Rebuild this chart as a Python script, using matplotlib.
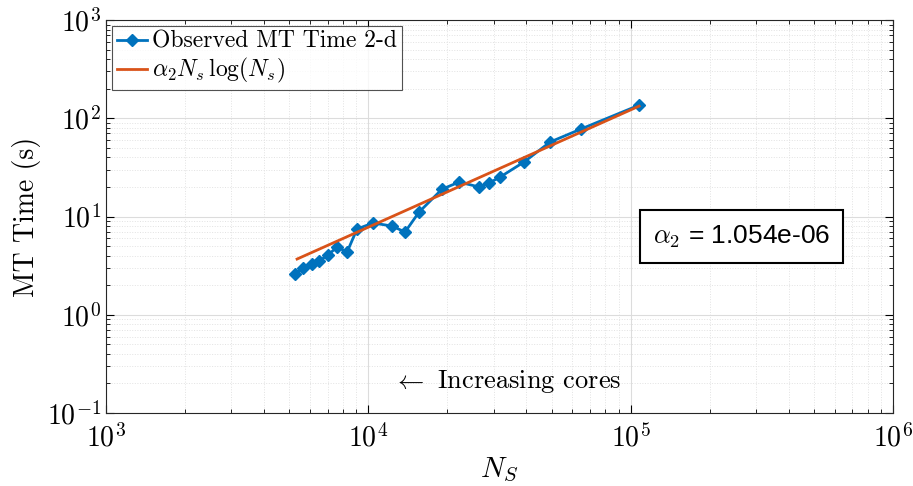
import numpy as np
import matplotlib
matplotlib.use("Agg")
import matplotlib.pyplot as plt

plt.rcParams['font.family'] = 'serif'
plt.rcParams['font.serif'] = ['cmr10']
plt.rcParams['mathtext.fontset'] = 'cm'
plt.rcParams['axes.formatter.use_mathtext'] = True

# observed MT time (2-d) vs number of sources
ns = [5254, 5637, 6100, 6490, 7020, 7600, 8300, 9056, 10420, 12310, 13800,
      15610, 19100, 22180, 26420, 28840, 31770, 39230, 49300, 64710, 107700]
mt_time = [2.60, 2.99, 3.29, 3.52, 4.06, 4.89, 4.35, 7.46, 8.59, 8.00, 6.95,
           11.1, 19.0, 22.4, 20.0, 21.9, 25.2, 35.9, 57.3, 77.8, 136]

# fitted alpha_2 N_s log(N_s) line (end points)
fit_ns = [5350, 107700]
fit_time = [3.69, 133]

alpha2 = "1.054e-06"

fig = plt.figure(figsize=(9.13, 4.86), dpi=100)
ax = fig.add_axes([0.1161, 0.1502, 0.8620, 0.8086])

ax.plot(ns, mt_time, color='#0072BD', marker='D', markersize=6.5, linewidth=2,
        label='Observed MT Time 2-d', zorder=3)
ax.plot(fit_ns, fit_time, color='#D95319', linewidth=2,
        label=r'$\alpha_2 N_s\,\log(N_s)$', zorder=4)

ax.set_xscale('log')
ax.set_yscale('log')
ax.set_xlim(1e3, 1e6)
ax.set_ylim(1e-1, 1e3)

ax.grid(True, which='major', color='#dcdcdc', linewidth=0.8, linestyle='-')
ax.grid(True, which='minor', color='#e2e2e2', linewidth=0.7, linestyle=':')
ax.set_axisbelow(True)
ax.tick_params(which='both', direction='in', top=True, right=True, labelsize=20)
ax.tick_params(which='major', length=6)
ax.tick_params(which='minor', length=3)
ax.tick_params(axis='x', which='major', pad=8)
for s in ax.spines.values():
    s.set_color('#262626')
    s.set_linewidth(0.8)

ax.set_xlabel(r'$N_S$', fontsize=21, labelpad=2)
ax.set_ylabel('MT Time (s)', fontsize=20)

leg = ax.legend(loc='upper left', fontsize=17, frameon=True, fancybox=False,
                borderpad=0.2, labelspacing=0.15, handlelength=1.3,
                handletextpad=0.2, borderaxespad=0.25)
leg.get_frame().set_edgecolor('#262626')
leg.get_frame().set_linewidth(0.8)

ax.text(33800, 0.207, r'$\leftarrow$ Increasing cores', fontsize=19,
        ha='center', va='center')

ax.text(0.8075, 0.449, r'$\alpha_2$ = ' + alpha2, transform=ax.transAxes,
        fontsize=19, family='Liberation Sans', ha='center', va='center',
        bbox=dict(boxstyle='square,pad=0.5', facecolor='white',
                  edgecolor='black', linewidth=1.5))

fig.savefig('out.png', dpi=100)
